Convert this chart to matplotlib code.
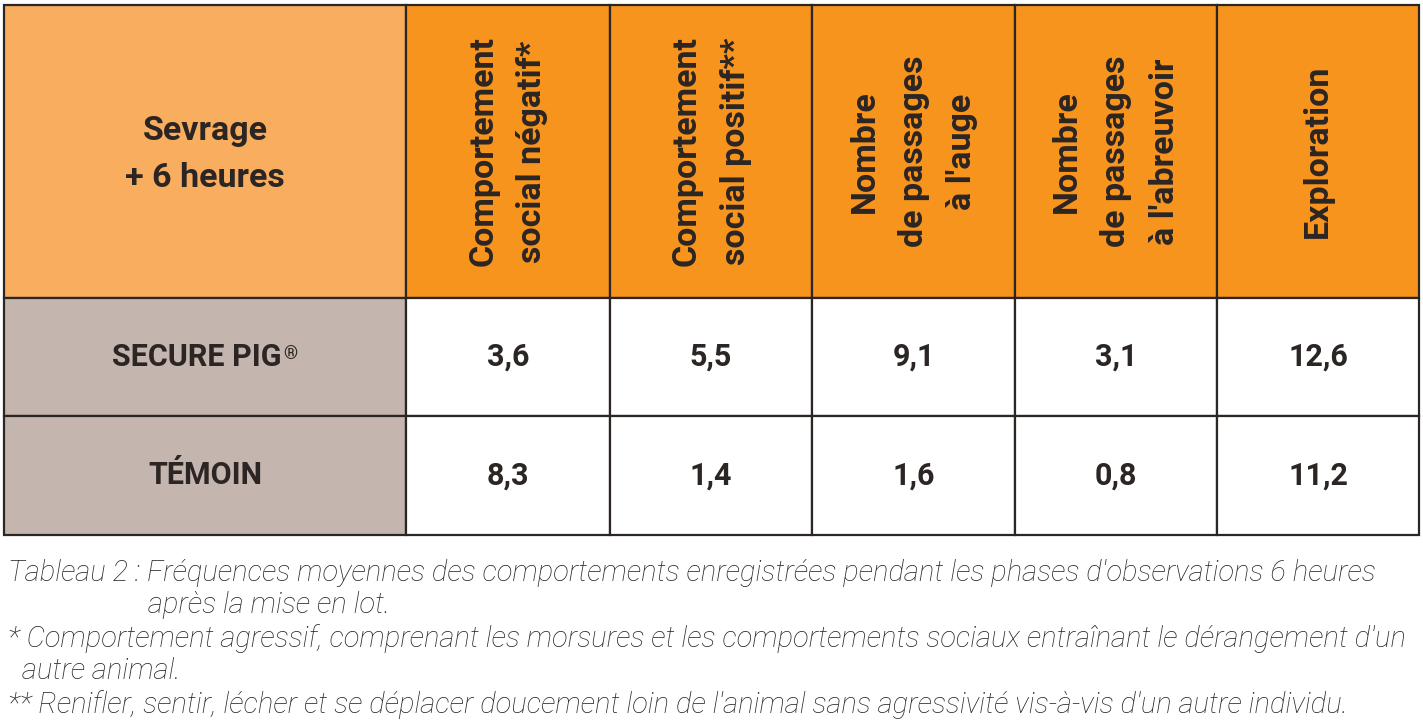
import matplotlib.pyplot as plt
from matplotlib.patches import Rectangle

# contenu du tableau
corner_label = "Sevrage\n+ 6 heures"
col_labels = [
    "Comportement\nsocial négatif*",
    "Comportement\nsocial positif**",
    "Nombre\nde passages\nà l'auge",
    "Nombre\nde passages\nà l'abreuvoir",
    "Exploration",
]
row_labels = ["SECURE PIG®", "TÉMOIN"]
secure_pig = [3.6, 5.5, 9.1, 3.1, 12.6]
temoin = [8.3, 1.4, 1.6, 0.8, 11.2]

notes = [
    ("Tableau 2 : Fréquences moyennes des comportements enregistrées pendant les phases d'observations 6 heures", 8),
    ("après la mise en lot.", 148),
    ("* Comportement agressif, comprenant les morsures et les comportements sociaux entraînant le dérangement d'un", 8),
    ("autre animal.", 22),
    ("** Renifler, sentir, lécher et se déplacer doucement loin de l'animal sans agressivité vis-à-vis d'un autre individu.", 8),
]

# mise en page (pixels)
col_edges = [4, 406, 610, 812, 1015, 1217, 1419]
row_edges = [5, 298, 416, 535]
note_y = [573, 605, 639, 671, 705]

c_corner = "#F9AE5F"
c_head = "#F7941D"
c_rowlab = "#C4B5AE"
c_line = "#2b2523"
c_text = "#2b2523"

fig = plt.figure(figsize=(14.23, 7.24), dpi=100)
ax = fig.add_axes([0, 0, 1, 1])
ax.set_xlim(0, 1423)
ax.set_ylim(724, 0)
ax.axis("off")


def cell(i, j, color):
    x0, x1 = col_edges[j], col_edges[j + 1]
    y0, y1 = row_edges[i], row_edges[i + 1]
    ax.add_patch(Rectangle((x0, y0), x1 - x0, y1 - y0, facecolor=color,
                           edgecolor=c_line, linewidth=1.6))
    return (x0 + x1) / 2, (y0 + y1) / 2


fam = "Roboto"
renderer = fig.canvas.get_renderer()

cx, cy = cell(0, 0, c_corner)
ax.text(cx, cy + 3, corner_label, ha="center", va="center", multialignment="center",
        fontsize=24.5, fontweight="bold", family=fam, color=c_text, linespacing=1.62)

for j, lab in enumerate(col_labels):
    cx, cy = cell(0, j + 1, c_head)
    ax.text(cx, cy, lab, ha="center", va="center", multialignment="center",
            rotation=90, fontsize=24.5, fontweight="bold", family=fam,
            color=c_text, linespacing=1.68)

rows = [secure_pig, temoin]
for i, (lab, vals) in enumerate(zip(row_labels, rows)):
    cx, cy = cell(i + 1, 0, c_rowlab)
    if lab.endswith("®"):
        # le ® est plus petit et en exposant
        t = ax.text(cx - 8, cy, lab[:-1], ha="center", va="center", fontsize=22,
                    fontweight="bold", family=fam, color=c_text)
        bb = t.get_window_extent(renderer).transformed(ax.transData.inverted())
        ax.text(bb.x1 + 1, min(bb.y0, bb.y1) + 3, "®", ha="left", va="top",
                fontsize=13, fontweight="bold", family=fam, color=c_text)
    else:
        ax.text(cx, cy, lab, ha="center", va="center", fontsize=22,
                fontweight="bold", family=fam, color=c_text)
    for j, v in enumerate(vals):
        cx, cy = cell(i + 1, j + 1, "white")
        ax.text(cx, cy, f"{v:.1f}".replace(".", ","), ha="center", va="center",
                fontsize=22, fontweight="bold", family=fam, color=c_text)

for (txt, x), y in zip(notes, note_y):
    ax.text(x, y, txt, ha="left", va="center", fontsize=21, style="italic",
            fontweight="light", family=fam, color="#262626")

fig.savefig("out.png", dpi=100, facecolor="white")
